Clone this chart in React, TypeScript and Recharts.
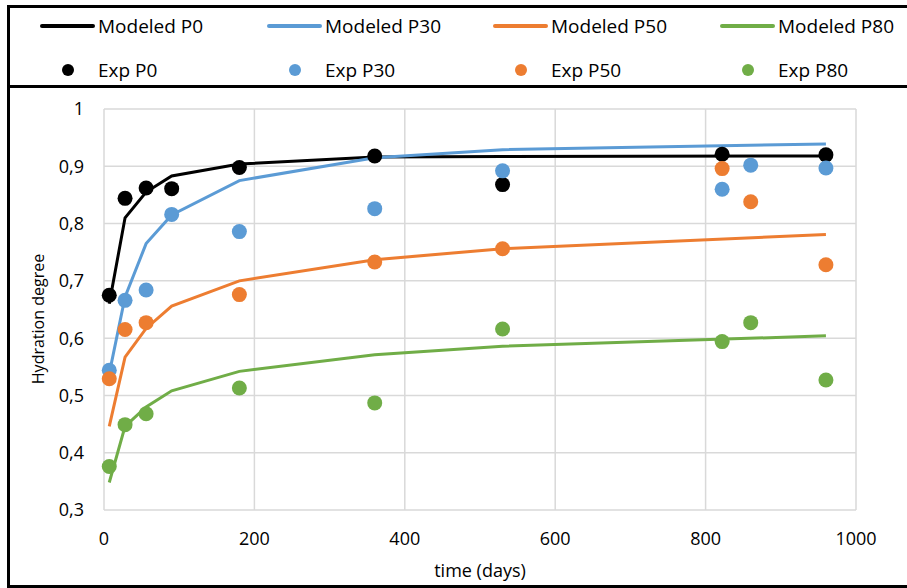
import React from 'react';
import { ComposedChart, Line, Scatter, XAxis, YAxis, CartesianGrid, Legend } from 'recharts';

// model curves share the same time steps
const modelDays = [7, 28, 56, 90, 180, 360, 530, 960];
const modeledP0 = [0.66, 0.81, 0.855, 0.883, 0.904, 0.916, 0.917, 0.918];
const modeledP30 = [0.538, 0.672, 0.765, 0.815, 0.875, 0.915, 0.929, 0.939];
const modeledP50 = [0.446, 0.567, 0.617, 0.656, 0.7, 0.737, 0.756, 0.781];
const modeledP80 = [0.348, 0.446, 0.48, 0.508, 0.542, 0.571, 0.586, 0.604];

// experimental points
const expDaysP0 = [7, 28, 56, 90, 180, 360, 530, 822, 960];
const expP0 = [0.675, 0.844, 0.862, 0.861, 0.898, 0.918, 0.868, 0.921, 0.92];
const expDaysP30 = [7, 28, 56, 90, 180, 360, 530, 822, 860, 960];
const expP30 = [0.544, 0.666, 0.684, 0.816, 0.786, 0.826, 0.892, 0.86, 0.902, 0.897];
const expDaysP50 = [7, 28, 56, 180, 360, 530, 822, 860, 960];
const expP50 = [0.529, 0.615, 0.627, 0.676, 0.733, 0.756, 0.896, 0.838, 0.728];
const expDaysP80 = [7, 28, 56, 180, 360, 530, 822, 860, 960];
const expP80 = [0.376, 0.449, 0.468, 0.513, 0.487, 0.616, 0.594, 0.627, 0.527];

const xTicks = [0, 200, 400, 600, 800, 1000];
const yTicks = [0.3, 0.4, 0.5, 0.6, 0.7, 0.8, 0.9, 1];

const FONT = '"Open Sans", sans-serif';
const COLORS = ['#000000', '#5B9BD5', '#ED7D31', '#70AD47'];
const NAMES = ['P0', 'P30', 'P50', 'P80'];

const zip = (days: number[], vals: number[]) => days.map((t, i) => ({ t, v: vals[i] }));

const models = [modeledP0, modeledP30, modeledP50, modeledP80].map((vals) => zip(modelDays, vals));
const exps = [
  zip(expDaysP0, expP0),
  zip(expDaysP30, expP30),
  zip(expDaysP50, expP50),
  zip(expDaysP80, expP80),
];

const fmtY = (v: number) => (v === 1 ? '1' : v.toFixed(1).replace('.', ','));

const legendCols = [40, 267, 493, 720];

// page coords -> coords inside the bordered legend box (left 7, top 5, 3px border)
const lx = (x: number) => x - 10;
const ly = (y: number) => y - 8;

const LegendBox = () => (
  <div
    style={{
      position: 'relative',
      width: '100%',
      height: '100%',
      border: '3px solid #000',
      boxSizing: 'border-box',
      fontFamily: FONT,
      fontSize: 19,
      color: '#000',
    }}
  >
    {NAMES.map((n, i) => (
      <React.Fragment key={n}>
        <div
          style={{
            position: 'absolute',
            left: lx(legendCols[i]),
            top: ly(24),
            width: 55,
            height: 4,
            background: COLORS[i],
            borderRadius: 2,
          }}
        />
        <div style={{ position: 'absolute', left: lx(legendCols[i] + 58), top: ly(14), height: 24, lineHeight: '24px', whiteSpace: 'nowrap' }}>
          Modeled {n}
        </div>
        <div
          style={{
            position: 'absolute',
            left: lx(legendCols[i] + 22),
            top: ly(64),
            width: 12,
            height: 12,
            borderRadius: 6,
            background: COLORS[i],
          }}
        />
        <div style={{ position: 'absolute', left: lx(legendCols[i] + 58), top: ly(58), height: 24, lineHeight: '24px', whiteSpace: 'nowrap' }}>
          Exp {n}
        </div>
      </React.Fragment>
    ))}
  </div>
);

const dotShape = (color: string) => (p: any) => <circle cx={p.cx} cy={p.cy} r={7.5} fill={color} />;

export default function App() {
  return (
    <div style={{ position: 'absolute', left: 0, top: 0, width: 907, height: 588, overflow: 'hidden', background: '#fff' }}>
      <div
        style={{
          position: 'absolute',
          left: 7,
          top: 85,
          width: 910,
          height: 503,
          border: '3px solid #000',
          boxSizing: 'border-box',
        }}
      />
      <div style={{ position: 'absolute', left: 0, top: 0 }}>
        <ComposedChart width={907} height={588} margin={{ top: 109, right: 51, bottom: 38, left: 44 }}>
          <CartesianGrid stroke="#d9d9d9" strokeWidth={1.5} />
          <XAxis
            type="number"
            dataKey="t"
            domain={[0, 1000]}
            ticks={xTicks}
            axisLine={false}
            tickLine={false}
            tickSize={0}
            tickMargin={22}
            height={40}
            tick={{ fontSize: 18, fill: '#000', fontFamily: FONT }}
            label={{
              content: () => (
                <text x={480} y={570} textAnchor="middle" dominantBaseline="central" fontSize={18} fontFamily={FONT} fill="#000">
                  time (days)
                </text>
              ),
            }}
          />
          <YAxis
            type="number"
            dataKey="v"
            domain={[0.3, 1]}
            ticks={yTicks}
            tickFormatter={fmtY}
            axisLine={false}
            tickLine={false}
            tickSize={0}
            tickMargin={20}
            width={60}
            tick={{ fontSize: 18, fill: '#000', fontFamily: FONT }}
            label={{
              content: () => (
                <text
                  transform="translate(38,319) rotate(-90)"
                  textAnchor="middle"
                  dominantBaseline="central"
                  fontSize={16}
                  fontFamily={FONT}
                  fill="#000"
                >
                  Hydration degree
                </text>
              ),
            }}
          />
          <Legend
            layout="horizontal"
            verticalAlign="middle"
            align="center"
            wrapperStyle={{ left: 7, top: 5, width: 910, height: 83 }}
            content={() => <LegendBox />}
          />
          {models.map((d, i) => (
            <Line
              key={'m' + i}
              data={d}
              dataKey="v"
              name={'Modeled ' + NAMES[i]}
              type="linear"
              stroke={COLORS[i]}
              strokeWidth={3}
              dot={false}
              activeDot={false}
              isAnimationActive={false}
            />
          ))}
          {exps.map((d, i) => (
            <Scatter
              key={'e' + i}
              data={d}
              dataKey="v"
              name={'Exp ' + NAMES[i]}
              fill={COLORS[i]}
              shape={dotShape(COLORS[i])}
              isAnimationActive={false}
            />
          ))}
        </ComposedChart>
      </div>
    </div>
  );
}
